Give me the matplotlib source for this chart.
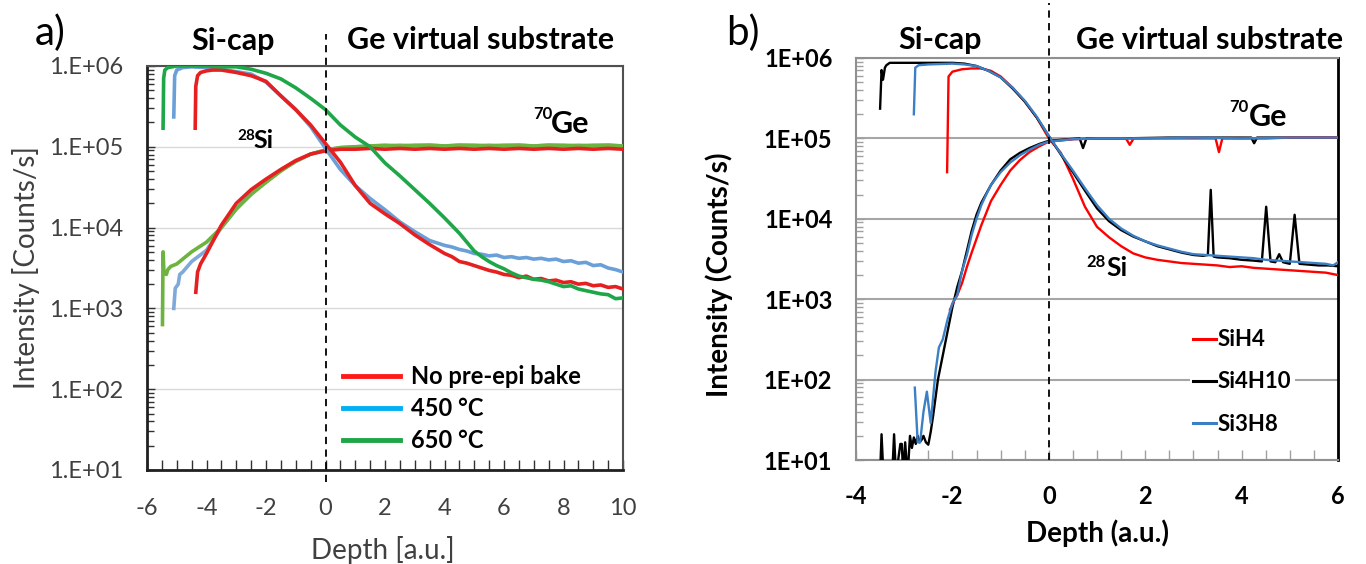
import numpy as np
import matplotlib
matplotlib.use("Agg")
import matplotlib.pyplot as plt
from matplotlib.ticker import LogLocator, MultipleLocator, FuncFormatter, NullFormatter
from matplotlib.lines import Line2D

plt.rcParams['font.family'] = ['Lato', 'DejaVu Sans']
plt.rcParams['axes.unicode_minus'] = False

W, H = 1366, 564

# ---------------- Panel a) data (depth [a.u.], log10 intensity) ----------------
si_nobake_x = [-4.38, -4.36, -4.3, -4.2, -4.0, -3.8, -3.5, -3.0, -2.5, -2.0, -1.5, -1.0, -0.5, 0.0,
               0.5, 1.0, 1.5, 2.0, 2.5, 3.0, 3.5, 4.0, 4.25, 4.5, 4.75, 5.0, 5.25, 5.5, 5.75, 6.0,
               6.25, 6.5, 6.75, 7.0, 7.25, 7.5, 7.75, 8.0, 8.25, 8.5, 8.75, 9.0, 9.25, 9.5, 9.75, 10.0]
si_nobake_log = [5.23, 5.75, 5.88, 5.92, 5.94, 5.95, 5.95, 5.92, 5.88, 5.81, 5.63, 5.46, 5.27, 5.04,
                 4.81, 4.52, 4.30, 4.17, 4.05, 3.91, 3.79, 3.68, 3.64, 3.58, 3.56, 3.53, 3.50, 3.47, 3.45, 3.42,
                 3.41, 3.38, 3.40, 3.36, 3.37, 3.34, 3.35, 3.32, 3.33, 3.30, 3.31, 3.28, 3.29, 3.26, 3.27, 3.24]

si_450_x = [-5.1, -5.07, -5.0, -4.8, -4.5, -4.0, -3.5, -3.0, -2.5, -2.0, -1.5, -1.0, -0.5, 0.0,
            0.5, 1.0, 1.5, 2.0, 2.5, 3.0, 3.5, 4.0, 4.25, 4.5, 4.75, 5.0, 5.25, 5.5, 5.75, 6.0,
            6.25, 6.5, 6.75, 7.0, 7.25, 7.5, 7.75, 8.0, 8.25, 8.5, 8.75, 9.0, 9.25, 9.5, 9.75, 10.0]
si_450_log = [5.37, 5.88, 5.95, 5.98, 5.99, 5.98, 5.96, 5.93, 5.90, 5.80, 5.63, 5.46, 5.25, 4.98,
              4.72, 4.52, 4.36, 4.22, 4.07, 3.95, 3.84, 3.78, 3.76, 3.73, 3.71, 3.68, 3.67, 3.65, 3.66, 3.63,
              3.64, 3.62, 3.63, 3.61, 3.62, 3.60, 3.61, 3.58, 3.59, 3.56, 3.57, 3.53, 3.54, 3.50, 3.48, 3.45]

si_650_x = [-5.46, -5.44, -5.4, -5.3, -5.0, -4.5, -4.0, -3.5, -3.0, -2.5, -2.0, -1.5, -1.0, -0.5, 0.0,
            0.5, 1.0, 1.5, 2.0, 2.5, 3.0, 3.5, 4.0, 4.5, 5.0, 5.25, 5.5, 5.75, 6.0,
            6.25, 6.5, 6.75, 7.0, 7.25, 7.5, 7.75, 8.0, 8.25, 8.5, 8.75, 9.0, 9.25, 9.5, 9.75, 10.0]
si_650_log = [5.23, 5.85, 5.95, 5.98, 6.0, 6.0, 6.0, 5.99, 5.99, 5.96, 5.91, 5.84, 5.73, 5.60, 5.46,
              5.27, 5.12, 5.00, 4.80, 4.64, 4.47, 4.30, 4.12, 3.93, 3.71, 3.64, 3.58, 3.53, 3.49,
              3.44, 3.40, 3.38, 3.36, 3.35, 3.33, 3.30, 3.27, 3.28, 3.24, 3.22, 3.20, 3.18, 3.17, 3.12, 3.13]

ge_nobake_x = [-4.36, -4.3, -4.2, -4.0, -3.5, -3.0, -2.5, -2.0, -1.5, -1.0, -0.5, 0.0, 0.5, 1.0,
               1.5, 2.0, 2.5, 3.0, 3.5, 4.0, 4.5, 5.0, 5.5, 6.0, 6.5, 7.0, 7.5, 8.0, 8.5, 9.0, 9.5, 10.0]
ge_nobake_log = [3.20, 3.45, 3.55, 3.68, 4.03, 4.30, 4.47, 4.60, 4.72, 4.83, 4.91, 4.95, 4.97, 4.97,
                 4.98, 4.97, 4.98, 4.97, 4.98, 4.97, 4.98, 4.97, 4.98, 4.97, 4.98, 4.97, 4.98, 4.97, 4.98, 4.97, 4.98, 4.97]

ge_450_x = [-5.1, -5.05, -4.95, -4.9, -4.8, -4.5, -4.0, -3.5, -3.0, -2.5, -2.0, -1.5, -1.0, -0.5, 0.0, 0.5,
            1.0, 1.5, 2.0, 2.5, 3.0, 3.5, 4.0, 4.5, 5.0, 5.5, 6.0, 6.5, 7.0, 7.5, 8.0, 8.5, 9.0, 9.5, 10.0]
ge_450_log = [3.00, 3.25, 3.30, 3.42, 3.45, 3.58, 3.72, 4.00, 4.23, 4.42, 4.57, 4.71, 4.82, 4.91, 4.96, 4.99,
              5.00, 5.01, 5.01, 5.02, 5.01, 5.02, 5.01, 5.02, 5.01, 5.02, 5.01, 5.02, 5.01, 5.02, 5.01, 5.02, 5.01, 5.02, 5.01]

ge_650_x = [-5.48, -5.46, -5.43, -5.35, -5.3, -5.2, -5.0, -4.5, -4.0, -3.5, -3.0, -2.5, -2.0, -1.5, -1.0, -0.5,
            0.0, 0.5, 1.0, 1.5, 2.0, 2.5, 3.0, 3.5, 4.0, 4.5, 5.0, 5.5, 6.0, 6.5, 7.0, 7.5, 8.0, 8.5, 9.0, 9.5, 10.0]
ge_650_log = [2.80, 3.70, 3.45, 3.42, 3.48, 3.52, 3.55, 3.70, 3.82, 4.00, 4.23, 4.41, 4.56, 4.70, 4.82, 4.91,
              4.96, 4.99, 5.00, 5.01, 5.02, 5.01, 5.02, 5.02, 5.01, 5.02, 5.02, 5.01, 5.02, 5.02, 5.01, 5.02, 5.02, 5.01, 5.02, 5.02, 5.01]

legend_a = ["No pre-epi bake", "450 °C", "650 °C"]

# ---------------- Panel b) data ----------------
si_sih4_x = [-2.11, -2.08, -2.0, -1.8, -1.6, -1.4, -1.2, -1.0, -0.75, -0.5, -0.25, 0.0, 0.25, 0.5, 0.75,
             1.0, 1.25, 1.5, 1.75, 2.0, 2.25, 2.5, 2.75, 3.0, 3.25, 3.5, 3.75, 4.0, 4.25, 4.5, 4.75,
             5.0, 5.25, 5.5, 5.75, 6.0]
si_sih4_log = [4.58, 5.77, 5.83, 5.86, 5.87, 5.87, 5.84, 5.77, 5.63, 5.46, 5.26, 5.00, 4.82, 4.50, 4.15,
               3.90, 3.77, 3.66, 3.57, 3.52, 3.49, 3.47, 3.45, 3.44, 3.43, 3.42, 3.40, 3.41, 3.39, 3.38, 3.37,
               3.36, 3.35, 3.34, 3.33, 3.30]

si_si4h10_x = [-3.5, -3.47, -3.44, -3.4, -3.37, -3.3, -3.0, -2.5, -2.0, -1.75, -1.5, -1.25, -1.0, -0.75,
               -0.5, -0.25, 0.0, 0.25, 0.5, 0.75, 1.0, 1.25, 1.5, 1.75, 2.0, 2.25, 2.5, 2.75, 3.0, 3.2,
               3.3, 3.36, 3.42, 3.5, 3.75, 4.0, 4.25, 4.42, 4.51, 4.6, 4.7, 4.78, 4.86, 5.0, 5.1, 5.2,
               5.4, 5.6, 5.8, 6.0]
si_si4h10_log = [5.37, 5.85, 5.73, 5.88, 5.91, 5.94, 5.94, 5.94, 5.94, 5.93, 5.90, 5.84, 5.76, 5.62,
                 5.46, 5.26, 5.03, 4.80, 4.58, 4.35, 4.13, 3.97, 3.86, 3.78, 3.72, 3.66, 3.62, 3.58, 3.55, 3.54,
                 3.55, 4.36, 3.53, 3.52, 3.51, 3.49, 3.48, 3.47, 4.15, 3.47, 3.46, 3.56, 3.46, 3.44, 4.05, 3.44,
                 3.43, 3.42, 3.42, 3.41]

si_si3h8_x = [-2.8, -2.77, -2.7, -2.5, -2.0, -1.75, -1.5, -1.25, -1.0, -0.75, -0.5, -0.25, 0.0, 0.25,
              0.5, 0.75, 1.0, 1.25, 1.5, 1.75, 2.0, 2.25, 2.5, 2.75, 3.0, 3.25, 3.5, 3.75, 4.0, 4.25,
              4.5, 4.75, 5.0, 5.25, 5.5, 5.75, 5.9, 6.0]
si_si3h8_log = [5.30, 5.88, 5.91, 5.92, 5.93, 5.92, 5.90, 5.84, 5.76, 5.63, 5.47, 5.27, 5.03, 4.81,
                4.60, 4.38, 4.17, 4.00, 3.88, 3.79, 3.72, 3.67, 3.63, 3.59, 3.56, 3.55, 3.54, 3.53, 3.52, 3.51,
                3.49, 3.48, 3.47, 3.46, 3.45, 3.44, 3.42, 3.46]

ge_sih4_x = [-2.05, -1.95, -1.9, -1.8, -1.7, -1.6, -1.5, -1.4, -1.3, -1.2, -1.0, -0.8, -0.6, -0.4, -0.2,
             0.0, 0.5, 1.0, 1.6, 1.68, 1.76, 2.5, 3.0, 3.46, 3.53, 3.6, 4.0, 4.5, 5.0, 5.5, 6.0]
ge_sih4_log = [2.87, 3.00, 3.05, 3.20, 3.40, 3.58, 3.75, 3.92, 4.07, 4.22, 4.42, 4.60, 4.73, 4.83, 4.90,
               4.96, 4.99, 5.00, 5.00, 4.92, 5.00, 5.00, 5.00, 5.00, 4.83, 5.00, 5.00, 5.00, 5.01, 5.01, 5.01]

ge_si4h10_x = [-3.5, -3.47, -3.43, -3.25, -3.21, -3.17, -3.08, -3.05, -3.02, -2.98, -2.93, -2.88, -2.84,
               -2.8, -2.76, -2.72, -2.68, -2.64, -2.6, -2.55, -2.5, -2.45, -2.4, -2.3, -2.2, -2.1, -2.0,
               -1.9, -1.8, -1.7, -1.6, -1.5, -1.4, -1.2, -1.0, -0.8, -0.6, -0.4, -0.2, 0.0, 0.4, 0.64,
               0.71, 0.78, 1.5, 2.5, 3.5, 4.2, 4.26, 4.32, 5.0, 6.0]
ge_si4h10_log = [0.8, 1.32, 0.8, 0.8, 1.32, 0.8, 1.20, 1.20, 0.8, 1.22, 0.8, 1.30, 1.15,
                 1.28, 1.20, 1.30, 1.22, 1.25, 1.30, 1.22, 1.19, 1.35, 1.55, 2.00, 2.30, 2.60, 2.90,
                 3.15, 3.35, 3.60, 3.85, 4.05, 4.20, 4.42, 4.60, 4.74, 4.82, 4.88, 4.93, 4.97, 4.99, 5.00,
                 4.88, 5.00, 5.00, 5.01, 5.01, 5.01, 4.94, 5.01, 5.01, 5.01]

ge_si3h8_x = [-2.78, -2.72, -2.67, -2.6, -2.53, -2.45, -2.35, -2.28, -2.2, -2.1, -2.0, -1.9, -1.85, -1.8,
              -1.7, -1.6, -1.5, -1.4, -1.3, -1.2, -1.0, -0.8, -0.6, -0.4, -0.2, 0.0, 0.5, 1.0, 2.0,
              3.0, 4.0, 5.0, 6.0]
ge_si3h8_log = [1.90, 1.22, 1.22, 1.60, 1.85, 1.46, 2.10, 2.40, 2.50, 2.75, 2.95, 3.05, 3.20, 3.35,
                3.55, 3.80, 4.00, 4.17, 4.30, 4.42, 4.58, 4.70, 4.79, 4.86, 4.92, 4.96, 4.99, 5.00, 5.00,
                5.01, 5.00, 5.01, 5.01]

legend_b = ["SiH4", "Si4H10", "Si3H8"]

# ---------------- Figure ----------------
fig = plt.figure(figsize=(W / 100, H / 100), dpi=100)


def px_axes(l, t, r, b):
    return fig.add_axes([l / W, 1 - b / H, (r - l) / W, (b - t) / H])


def ftext(x, y, s, **kw):
    kw.setdefault('ha', 'center')
    kw.setdefault('va', 'center')
    return fig.text(x / W, 1 - y / H, s, **kw)


def p(v):
    return 10 ** np.asarray(v)


# ---- panel a
ax1 = px_axes(147, 66, 623, 470)
red_a, blue_a, green_a = '#e62020', '#6a9fd8', '#1ea648'
blue_ge_a, green_ge_a = '#7fa9d9', '#6db33f'
lw_a = 2.6
ax1.plot(ge_450_x, p(ge_450_log), color=blue_ge_a, lw=lw_a, zorder=3)
ax1.plot(ge_650_x, p(ge_650_log), color=green_ge_a, lw=lw_a, zorder=3)
ax1.plot(ge_nobake_x, p(ge_nobake_log), color=red_a, lw=lw_a, zorder=3)
ax1.plot(si_450_x, p(si_450_log), color=blue_a, lw=lw_a, zorder=3)
ax1.plot(si_nobake_x, p(si_nobake_log), color=red_a, lw=lw_a, zorder=3)
ax1.plot(si_650_x, p(si_650_log), color=green_a, lw=lw_a, zorder=3)

ax1.set_yscale('log')
ax1.set_xlim(-6, 10)
ax1.set_ylim(10, 1e6)
ax1.set_yticks([1e1, 1e2, 1e3, 1e4, 1e5, 1e6])
ax1.yaxis.set_major_formatter(FuncFormatter(lambda v, pos: "1.E+%02d" % int(round(np.log10(v)))))
ax1.yaxis.set_minor_locator(LogLocator(base=10, subs=np.arange(2, 10)))
ax1.yaxis.set_minor_formatter(NullFormatter())
ax1.xaxis.set_major_locator(MultipleLocator(2))
ax1.xaxis.set_minor_locator(MultipleLocator(0.5))
ax1.grid(True, axis='y', which='major', color='#d9d9d9', lw=1.0, zorder=0)
ax1.tick_params(axis='both', which='both', direction='in', color='#303030', width=1.0,
                labelsize=17, labelcolor='#404040')
ax1.tick_params(axis='y', which='major', length=6, pad=17)
ax1.tick_params(axis='y', which='minor', length=5)
ax1.tick_params(axis='x', which='both', length=7, pad=20)
for s in ['left', 'bottom']:
    ax1.spines[s].set_linewidth(2.0)
    ax1.spines[s].set_color('#202020')
for s in ['top', 'right']:
    ax1.spines[s].set_linewidth(1.5)
    ax1.spines[s].set_color('#505050')
ax1.axvline(0, ymin=-0.03, ymax=1.08, color='black', lw=1.3, ls=(0, (4, 3)), clip_on=False, zorder=4)

hand_a = [Line2D([], [], color=c, lw=3.5) for c in ['#ff1a1a', '#00b0f0', '#1ea648']]
leg1 = ax1.legend(hand_a, legend_a, loc='upper left', bbox_to_anchor=(343 / W, 1 - 365 / H),
                  bbox_transform=fig.transFigure, frameon=False, borderpad=0, borderaxespad=0,
                  handlelength=2.4, handletextpad=0.5, labelspacing=0.38,
                  prop={'weight': 'bold', 'size': 17})

# ---- panel b
ax2 = px_axes(856, 58, 1338, 460)
red_b, black_b, blue_b = '#ff0000', '#000000', '#3b7fc4'
lw_b = 1.7
ax2.plot(ge_si4h10_x, p(ge_si4h10_log), color=black_b, lw=lw_b, zorder=3)
ax2.plot(ge_sih4_x, p(ge_sih4_log), color=red_b, lw=lw_b, zorder=3)
ax2.plot(ge_si3h8_x, p(ge_si3h8_log), color=blue_b, lw=lw_b, zorder=3)
ax2.plot(si_sih4_x, p(si_sih4_log), color=red_b, lw=lw_b, zorder=3)
ax2.plot(si_si4h10_x, p(si_si4h10_log), color=black_b, lw=lw_b, zorder=3)
ax2.plot(si_si3h8_x, p(si_si3h8_log), color=blue_b, lw=lw_b, zorder=3)

ax2.set_yscale('log')
ax2.set_xlim(-4, 6)
ax2.set_ylim(10, 1e6)
ax2.set_yticks([1e1, 1e2, 1e3, 1e4, 1e5, 1e6])
ax2.yaxis.set_major_formatter(FuncFormatter(lambda v, pos: "1E+%02d" % int(round(np.log10(v)))))
ax2.yaxis.set_minor_locator(LogLocator(base=10, subs=np.arange(2, 10)))
ax2.yaxis.set_minor_formatter(NullFormatter())
ax2.xaxis.set_major_locator(MultipleLocator(2))
ax2.xaxis.set_minor_locator(MultipleLocator(0.5))
ax2.grid(True, axis='y', which='major', color='#a6a6a6', lw=1.5, zorder=0)
ax2.tick_params(axis='both', which='both', direction='in', color='#a0a0a0', width=1.0,
                labelsize=17, labelcolor='black')
for lab in ax2.get_xticklabels() + ax2.get_yticklabels():
    lab.set_fontweight('bold')
ax2.tick_params(axis='y', which='major', length=6, pad=17)
ax2.tick_params(axis='y', which='minor', length=5)
ax2.tick_params(axis='x', which='both', length=7, pad=18)
for s in ['left', 'bottom', 'top']:
    ax2.spines[s].set_linewidth(1.5)
    ax2.spines[s].set_color('#909090')
ax2.spines['right'].set_linewidth(2.0)
ax2.spines['right'].set_color('black')
ax2.axvline(0, ymin=0.0, ymax=1.137, color='black', lw=1.3, ls=(0, (4, 3)), clip_on=False, zorder=4)

hand_b = [Line2D([], [], color=c, lw=2.2) for c in [red_b, black_b, blue_b]]
leg2 = ax2.legend(hand_b, legend_b, loc='upper left', bbox_to_anchor=(1190 / W, 1 - 326 / H),
                  bbox_transform=fig.transFigure, frameon=True, facecolor='white', edgecolor='none',
                  framealpha=1, fancybox=False, borderpad=0.15, borderaxespad=0,
                  handlelength=1.0, handletextpad=0.1, labelspacing=0.95,
                  prop={'weight': 'bold', 'size': 16})
leg2.set_zorder(5)

# ---- texts
ftext(50, 33, "a)", fontsize=29)
ftext(743, 33, "b)", fontsize=29)
ftext(233, 41, "Si-cap", fontsize=22, fontweight='bold')
ftext(481, 40, "Ge virtual substrate", fontsize=22, fontweight='bold')
ftext(940, 40, "Si-cap", fontsize=22, fontweight='bold')
ftext(1210, 40, "Ge virtual substrate", fontsize=22, fontweight='bold')

# isotope labels
ftext(237, 136, "28", fontsize=11, fontweight='bold', ha='left')
ftext(253, 140, "Si", fontsize=18, fontweight='bold', ha='left')
ftext(533, 114, "70", fontsize=12, fontweight='bold', ha='left')
ftext(551, 124, "Ge", fontsize=22, fontweight='bold', ha='left')
ftext(1086, 262, "28", fontsize=12, fontweight='bold', ha='left')
ftext(1106, 268, "Si", fontsize=19, fontweight='bold', ha='left')
ftext(1229, 107, "70", fontsize=12, fontweight='bold', ha='left')
ftext(1249, 117, "Ge", fontsize=22, fontweight='bold', ha='left')

# axis labels
ftext(26, 268, "Intensity [Counts/s]", fontsize=20, rotation=90, color='#404040')
ftext(383, 550, "Depth [a.u.]", fontsize=20, color='#404040')
ftext(719, 275, "Intensity (Counts/s)", fontsize=20, rotation=90, fontweight='bold')
ftext(1097, 533, "Depth (a.u.)", fontsize=20, fontweight='bold')

fig.savefig("out.png", dpi=100, facecolor='white')
